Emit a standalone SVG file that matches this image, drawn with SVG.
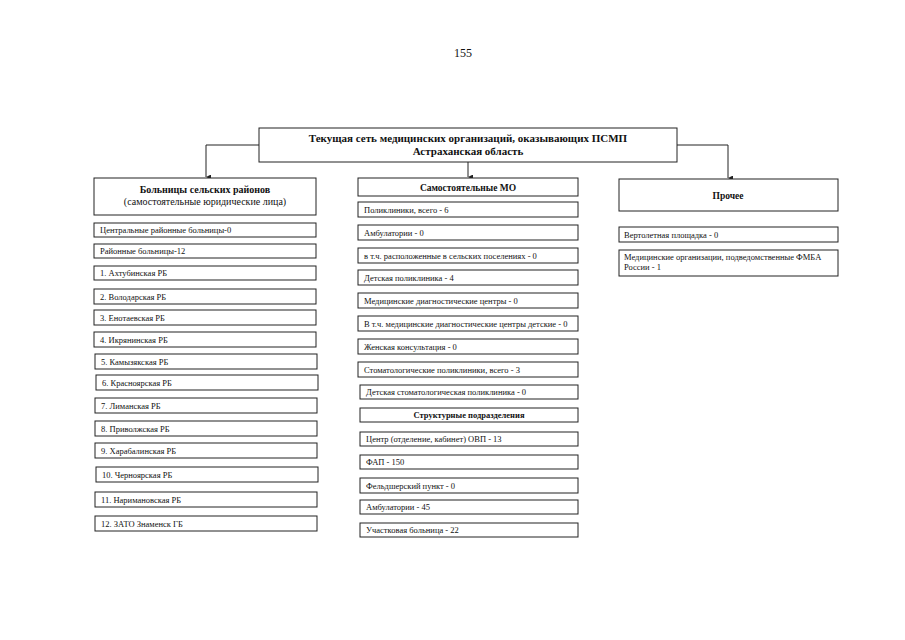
<svg xmlns="http://www.w3.org/2000/svg" width="905" height="640" viewBox="0 0 905 640">
<style>
.b{fill:#fff;stroke:#222;stroke-width:1}
.t{font-family:"Liberation Serif","Times New Roman",serif;font-size:8.5px;fill:#111}
.h{font-family:"Liberation Serif","Times New Roman",serif;font-weight:bold;fill:#111}
.c{text-anchor:middle}
.ln{fill:none;stroke:#222;stroke-width:1}
</style>
<defs>
<marker id="ar" viewBox="0 0 6 6" refX="3" refY="6" markerWidth="5" markerHeight="5" orient="auto-start-reverse" markerUnits="userSpaceOnUse">
<path d="M0,0 L6,0 L3,6 Z" fill="#222"/>
</marker>
</defs>
<rect width="905" height="640" fill="#fff"/>
<text x="463" y="57" class="t c" style="font-size:12px">155</text>

<g id="connectors">
<path class="ln" d="M259,145 H206 V177" marker-end="url(#ar)"/>
<path class="ln" d="M468,162 V177" marker-end="url(#ar)"/>
<path class="ln" d="M677,145 H728 V178" marker-end="url(#ar)"/>
</g>

<g id="root">
<rect class="b" x="259" y="128" width="418" height="34"/>
<text x="468" y="142" class="h c" style="font-size:11px">Текущая сеть медицинских организаций, оказывающих ПСМП</text>
<text x="468" y="155" class="h c" style="font-size:11px">Астраханская область</text>
</g>

<g id="left-head">
<rect class="b" x="94" y="178" width="222" height="37"/>
<text x="205" y="193" class="h c" style="font-size:10px">Больницы сельских районов</text>
<text x="205" y="205" class="t c" style="font-size:10px">(самостоятельные юридические лица)</text>
</g>
<g id="l0"><rect class="b" x="94" y="223" width="222" height="14"/><text x="100" y="233" class="t">Центральные районные больницы-0</text></g>
<g id="l00"><rect class="b" x="94" y="244" width="222" height="14"/><text x="100" y="254" class="t">Районные больницы-12</text></g>
<g id="l1"><rect class="b" x="94" y="266" width="222" height="14"/><text x="100" y="276" class="t">1. Ахтубинская РБ</text></g>
<g id="l2"><rect class="b" x="94" y="289" width="222" height="15"/><text x="100" y="300" class="t">2. Володарская РБ</text></g>
<g id="l3"><rect class="b" x="94" y="310" width="222" height="15"/><text x="100" y="321" class="t">3. Енотаевская РБ</text></g>
<g id="l4"><rect class="b" x="94" y="332" width="222" height="15"/><text x="100" y="343" class="t">4. Икрянинская РБ</text></g>
<g id="l5"><rect class="b" x="95" y="354" width="222" height="15"/><text x="101" y="365" class="t">5. Камызякская РБ</text></g>
<g id="l6"><rect class="b" x="96" y="375" width="222" height="15"/><text x="102" y="386" class="t">6. Красноярская РБ</text></g>
<g id="l7"><rect class="b" x="95" y="398" width="222" height="15"/><text x="101" y="409" class="t">7. Лиманская РБ</text></g>
<g id="l8"><rect class="b" x="95" y="421" width="222" height="15"/><text x="101" y="432" class="t">8. Приволжская РБ</text></g>
<g id="l9"><rect class="b" x="95" y="443" width="222" height="15"/><text x="101" y="454" class="t">9. Харабалинская РБ</text></g>
<g id="l10"><rect class="b" x="96" y="467" width="222" height="15"/><text x="102" y="478" class="t">10. Черноярская РБ</text></g>
<g id="l11"><rect class="b" x="95" y="492" width="222" height="15"/><text x="101" y="503" class="t">11. Наримановская РБ</text></g>
<g id="l12"><rect class="b" x="95" y="516" width="222" height="15"/><text x="101" y="527" class="t">12. ЗАТО Знаменск ГБ</text></g>

<g id="mid-head">
<rect class="b" x="358" y="178" width="220" height="18"/>
<text x="468" y="191" class="h c" style="font-size:9.5px">Самостоятельные МО</text>
</g>
<g id="m1"><rect class="b" x="358" y="202" width="220" height="15"/><text x="364" y="213" class="t">Поликлиники, всего - 6</text></g>
<g id="m2"><rect class="b" x="358" y="225" width="220" height="15"/><text x="364" y="236" class="t">Амбулатории - 0</text></g>
<g id="m3"><rect class="b" x="358" y="248" width="220" height="15"/><text x="364" y="259" class="t">в т.ч. расположенные в сельских поселениях - 0</text></g>
<g id="m4"><rect class="b" x="358" y="270" width="220" height="15"/><text x="364" y="281" class="t">Детская поликлиника - 4</text></g>
<g id="m5"><rect class="b" x="358" y="293" width="220" height="15"/><text x="364" y="304" class="t">Медицинские диагностические центры - 0</text></g>
<g id="m6"><rect class="b" x="358" y="316" width="220" height="15"/><text x="364" y="327" class="t">В т.ч. медицинские диагностические центры детские - 0</text></g>
<g id="m7"><rect class="b" x="358" y="339" width="220" height="15"/><text x="364" y="350" class="t">Женская консультация - 0</text></g>
<g id="m8"><rect class="b" x="358" y="362" width="220" height="15"/><text x="364" y="373" class="t">Стоматологические поликлиники, всего - 3</text></g>
<g id="m9"><rect class="b" x="360" y="385" width="218" height="14"/><text x="366" y="395" class="t">Детская стоматологическая поликлиника - 0</text></g>
<g id="m10"><rect class="b" x="360" y="408" width="218" height="14"/><text x="469" y="418" class="t c" style="font-weight:bold">Структурные подразделения</text></g>
<g id="m11"><rect class="b" x="360" y="432" width="218" height="14"/><text x="366" y="442" class="t">Центр (отделение, кабинет) ОВП - 13</text></g>
<g id="m12"><rect class="b" x="360" y="455" width="218" height="14"/><text x="366" y="465" class="t">ФАП - 150</text></g>
<g id="m13"><rect class="b" x="360" y="478" width="218" height="15"/><text x="366" y="489" class="t">Фельдшерский пункт - 0</text></g>
<g id="m14"><rect class="b" x="360" y="500" width="218" height="14"/><text x="366" y="510" class="t">Амбулатории - 45</text></g>
<g id="m15"><rect class="b" x="360" y="523" width="218" height="14"/><text x="366" y="533" class="t">Участковая больница - 22</text></g>

<g id="right-head">
<rect class="b" x="619" y="179" width="219" height="32"/>
<text x="728" y="199" class="h c" style="font-size:9.5px">Прочее</text>
</g>
<g id="r1"><rect class="b" x="619" y="227" width="219" height="15"/><text x="624" y="238" class="t">Вертолетная площадка - 0</text></g>
<g id="r2"><rect class="b" x="619" y="250" width="219" height="26"/><text x="624" y="260" class="t">Медицинские организации, подведомственные ФМБА</text><text x="624" y="270" class="t">России - 1</text></g>
</svg>
